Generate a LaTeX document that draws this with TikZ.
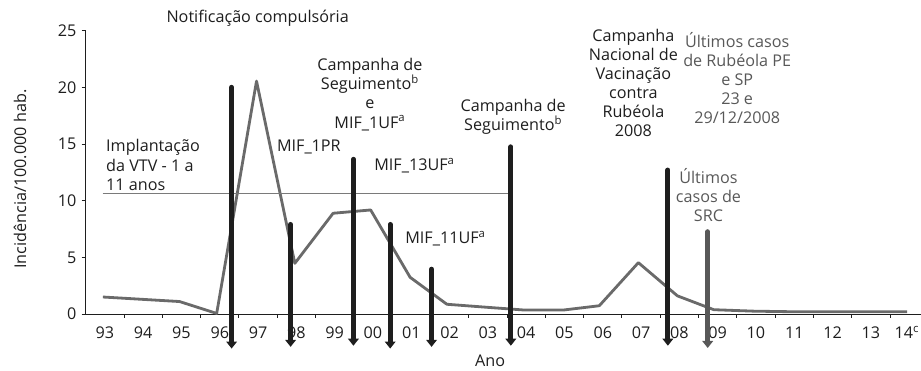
\documentclass[tikz,border=0pt]{standalone}
\usepackage{fontspec}
\setmainfont{Open Sans}
\usepackage{tikz}
\usetikzlibrary{arrows.meta}
\usetikzlibrary{positioning}
\usepackage{xcolor}
\definecolor{ink}{HTML}{1E1E1E}
\definecolor{datagray}{HTML}{6A6A6A}
\definecolor{bargray}{HTML}{585858}
\definecolor{notegray}{HTML}{585858}
\definecolor{refgray}{HTML}{7A7A7A}

\tikzset{
  axisline/.style={ink, line width=0.8pt},
  databar/.style={ink, line width=4.3pt, line cap=round, -{Triangle[width=9pt,length=6pt]}},
  lastbar/.style={databar, bargray},
  dataline/.style={datagray, line width=2.4pt, line join=round},
  refline/.style={refgray, line width=0.8pt},
  lbl/.style={ink, inner sep=0pt, font=\fontsize{13.8}{16.3}\selectfont},
  note/.style={lbl, align=center},
  graynote/.style={note, notegray}
}

\begin{document}
\begin{tikzpicture}[x=1.149cm, y=0.34cm]
  \useasboundingbox (-2.571cm,-1.68cm) rectangle (25.059cm,9.42cm);
		\coordinate (top) at (0,25);
		\coordinate (o) at (0,0);
		\coordinate (end) at (21.8,0);
		\draw[axisline] (top) -- (o) -- (end);
		\foreach \v in {0,5,...,25} {
		  \draw[axisline] (-0.104,\v) -- (0,\v);
		  \node[lbl, anchor=east] at (-0.235,\v) {\v};
		}
		\foreach \i in {1,...,21} \draw[axisline] (\i,0) -- (\i,-0.35);
		\foreach \i/\yr in {0/93,1/94,2/95,3/96,4/97,5/98,6/99,7/00,8/01,9/02,10/03,11/04,12/05,13/06,14/07,15/08,16/09,17/10,18/11,19/12,20/13}
		  \node[lbl] (y\yr) at (\i+0.5,-1.65) {\yr};
		\node[lbl] (y14) at (21.36,-1.65) {14\rlap{\textsuperscript{c}}};
		\node[lbl] (ano) at (10.56,-4.15) {Ano};
		\node[lbl, rotate=90] (ylab) at (-1.715,11.9) {Incidência/100.000 hab.};

		\coordinate (93) at (0.45,1.5);
		\coordinate (94) at (1.45,1.3);
		\coordinate (95) at (2.45,1.1);
		\coordinate (96) at (3.42,0.05);
		\coordinate (97) at (4.46,20.55);
		\coordinate (98) at (5.46,4.47);
		\coordinate (99) at (6.46,8.89);
		\coordinate (00) at (7.44,9.18);
		\coordinate (01) at (8.47,3.24);
		\coordinate (02) at (9.43,0.86);
		\coordinate (03) at (10.45,0.6);
		\coordinate (04) at (11.45,0.35);
		\coordinate (05) at (12.47,0.35);
		\coordinate (06) at (13.41,0.73);
		\coordinate (07) at (14.43,4.53);
		\coordinate (08) at (15.45,1.6);
		\coordinate (09) at (16.4,0.38);
		\coordinate (10) at (17.45,0.25);
		\coordinate (11) at (18.45,0.2);
		\coordinate (12) at (19.45,0.2);
		\coordinate (13) at (20.45,0.2);
		\coordinate (14) at (21.45,0.2);
		\draw[dataline] (93) -- (94) -- (95) -- (96) -- (97) -- (98) -- (99) -- (00) -- (01) -- (02) -- (03) -- (04) -- (05) -- (06) -- (07) -- (08) -- (09) -- (10) -- (11) -- (12) -- (13) -- (14);

		\coordinate (vtv) at (0.44,10.6);
		\coordinate (vtvend) at (11.10,10.6);
		\draw[refline] (vtv) -- (vtvend);

		\coordinate (b1) at (3.81,20);
		\coordinate (b1e) at (3.81,-3.05);
		\coordinate (b2) at (5.35,7.9);
		\coordinate (b2e) at (5.35,-2.9);
		\coordinate (b3) at (6.99,13.65);
		\coordinate (b3e) at (6.99,-2.8);
		\coordinate (b4) at (7.95,7.9);
		\coordinate (b4e) at (7.95,-3.05);
		\coordinate (b5) at (9.03,3.95);
		\coordinate (b5e) at (9.03,-2.9);
		\coordinate (b6) at (11.10,14.75);
		\coordinate (b6e) at (11.10,-2.8);
		\coordinate (b7) at (15.20,12.7);
		\coordinate (b7e) at (15.20,-2.8);
		\coordinate (b8) at (16.24,7.26);
		\coordinate (b8e) at (16.24,-3.0);
		\draw[databar] (b1) -- (b1e);
		\draw[databar] (b2) -- (b2e);
		\draw[databar] (b3) -- (b3e);
		\draw[databar] (b4) -- (b4e);
		\draw[databar] (b5) -- (b5e);
		\draw[databar] (b6) -- (b6e);
		\draw[databar] (b7) -- (b7e);
		\draw[lastbar] (b8) -- (b8e);

		\node[lbl] (notif) at (4.49,26.1) {Notificação compulsória};
		\node[lbl, anchor=west, align=left] (impl) at (0.53,13.15) {Implantação\\da VTV - 1 a\\11 anos};
		\node[lbl, anchor=west] (mif1pr) at (4.99,14.77) {MIF\_1PR};
		\node[note] (camp1) at (7.42,19.37) {Campanha de\\Seguimento\textsuperscript{b}\\e\\MIF\_1UF\textsuperscript{a}};
		\node[lbl, anchor=west] (mif13) at (7.53,13.09) {MIF\_13UF\textsuperscript{a}};
		\node[lbl, anchor=west] (mif11) at (8.34,6.62) {MIF\_11UF\textsuperscript{a}};
		\node[note] (camp2) at (11.16,17.37) {Campanha de\\Seguimento\textsuperscript{b}};
		\node[note] (camp3) at (14.30,20.40) {Campanha\\Nacional de\\Vacinação\\contra\\Rubéola\\2008};
		\node[graynote] (rub) at (17.01,20.80) {Últimos casos\\de Rubéola PE\\e SP\\23 e\\29/12/2008};
		\node[graynote] (src) at (16.26,10.47) {Últimos\\casos de\\SRC};
\end{tikzpicture}
\end{document}
